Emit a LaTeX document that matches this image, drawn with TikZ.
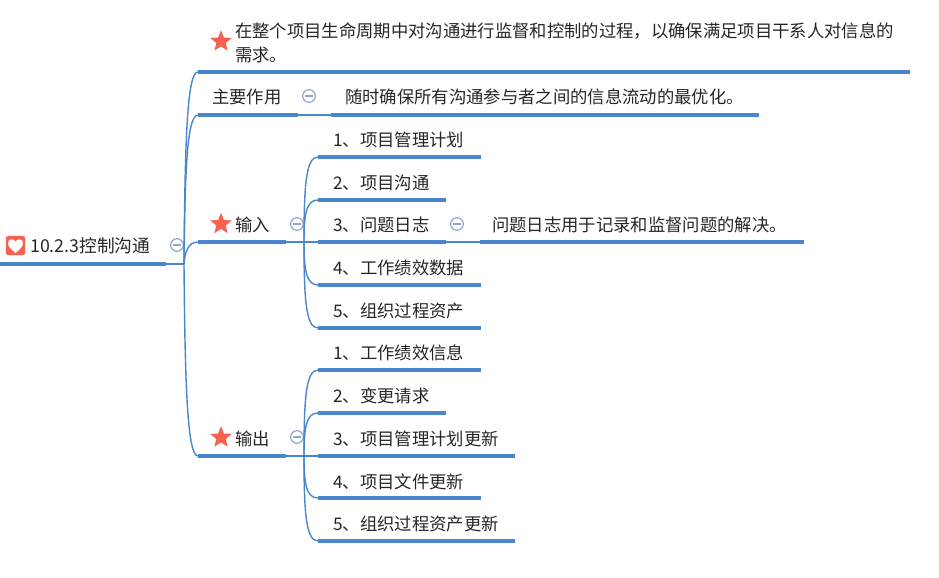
\documentclass[tikz,border=0pt]{standalone}
\usepackage{fontspec}
\setmainfont{Noto Sans CJK SC}
\usepackage{xcolor}
\definecolor{mmblue}{RGB}{74,134,203}
\definecolor{mmcircle}{RGB}{142,165,208}
\definecolor{mmred}{RGB}{250,96,80}
\definecolor{mmtext}{RGB}{38,38,38}
\usepackage{tikz}
\usetikzlibrary{positioning, shapes.geometric}
\tikzset{
  topic/.style={font=\fontsize{13pt}{18pt}\selectfont, text=mmtext, inner sep=0pt, anchor=west, align=left},
  bar/.style={draw=mmblue, line width=2.6pt},
  branch/.style={draw=mmblue, line width=1.05pt},
  collapse/.style={circle, draw=mmcircle, line width=0.9pt, inner sep=0pt, minimum size=9.5pt,
    path picture={\draw[mmcircle, line width=0.9pt] ([xshift=-3pt]path picture bounding box.center) -- ([xshift=3pt]path picture bounding box.center);}},
  redstar/.style={star, star points=5, star point ratio=2.3, fill=mmred, inner sep=0pt, minimum size=17pt}
}
\begin{document}
\begin{tikzpicture}[x=0.75pt, y=-0.75pt]
  \useasboundingbox (0,0) rectangle (939,578);

  % --- Root ---
  \coordinate (rootL) at (0,264);
  \coordinate (rootR) at (166,264);
  \coordinate (hub) at (184,264);
  \draw[bar] (rootL) -- (rootR);
  \draw[branch] (rootR) -- (hub);
  \node[fill=mmred, rounded corners=2pt, minimum size=14.5pt, inner sep=0pt] (rooticon) at (15.5,245.5) {};
  \fill[white] (15.5,253) .. controls (10,248.5) and (8,246) .. (8,243)
       .. controls (8,238.5) and (13.5,238) .. (15.5,241.5)
       .. controls (17.5,238) and (23,238.5) .. (23,243)
       .. controls (23,246) and (21,248.5) .. (15.5,253) -- cycle;
  \node[topic, font=\fontsize{13.3pt}{18pt}\selectfont] (root) at (30,246) {10.2.3控制沟通};
  \node[collapse] (rootc) at (177,245) {};

  % --- Definition ---
  \coordinate (defL) at (198,72);
  \coordinate (defR) at (910,72);
  \draw[bar] (defL) -- (defR);
  \draw[branch] (hub) .. controls (185,140) and (187,72) .. (defL);
  \node[redstar] (defstar) at (221,41.5) {};
  \node[topic] (def) at (235,42.5) {在整个项目生命周期中对沟通进行监督和控制的过程，以确保满足项目干系人对信息的\\需求。};

  % --- Main role ---
  \coordinate (roleL) at (198,115);
  \coordinate (roleR) at (298,115);
  \coordinate (notaL) at (331,115);
  \coordinate (notaR) at (759,115);
  \draw[bar] (roleL) -- (roleR);
  \draw[branch] (hub) .. controls (185,170) and (187,115) .. (roleL);
  \draw[branch] (roleR) -- (notaL);
  \draw[bar] (notaL) -- (notaR);
  \node[topic] (role) at (212,96.5) {主要作用};
  \node[collapse] (rolec) at (309,96) {};
  \node[topic] (nota) at (345,96.5) {随时确保所有沟通参与者之间的信息流动的最优化。};

  % --- Inputs ---
  \coordinate (inL) at (198,242);
  \coordinate (inR) at (286,242);
  \coordinate (inhub) at (304,242);
  \draw[bar] (inL) -- (inR);
  \draw[branch] (hub) .. controls (185,252) and (188,242) .. (inL);
  \draw[branch] (inR) -- (inhub);
  \node[redstar] (instar) at (221,224) {};
  \node[topic] (in) at (235,225) {输入};
  \node[collapse] (inc) at (297,224) {};

  % Input items
  \coordinate (ia) at (318,157);  \coordinate (iaR) at (481,157);
  \coordinate (ib) at (318,200);  \coordinate (ibR) at (446,200);
  \coordinate (ic) at (318,242);  \coordinate (icR) at (446,242);
  \coordinate (id) at (318,285);  \coordinate (idR) at (481,285);
  \coordinate (ie) at (318,328);  \coordinate (ieR) at (481,328);
  \draw[bar] (ia) -- (iaR);
  \draw[bar] (ib) -- (ibR);
  \draw[bar] (ic) -- (icR);
  \draw[bar] (id) -- (idR);
  \draw[bar] (ie) -- (ieR);
  \draw[branch] (inhub) .. controls (304,185) and (306,157) .. (ia);
  \draw[branch] (inhub) .. controls (304,215) and (306,200) .. (ib);
  \draw[branch] (inhub) -- (ic);
  \draw[branch] (inhub) .. controls (304,269) and (306,285) .. (id);
  \draw[branch] (inhub) .. controls (304,300) and (306,328) .. (ie);
  \node[topic] (iat) at (333,139.5) {1、项目管理计划};
  \node[topic] (ibt) at (333,182.5) {2、项目沟通};
  \node[topic] (ict) at (333,225) {3、问题日志};
  \node[topic] (idt) at (333,267.5) {4、工作绩效数据};
  \node[topic] (iet) at (333,310.5) {5、组织过程资产};

  % Note on the issue log
  \coordinate (notbL) at (480,242);
  \coordinate (notbR) at (804,242);
  \draw[branch] (icR) -- (notbL);
  \draw[bar] (notbL) -- (notbR);
  \node[collapse] (icc) at (457,224) {};
  \node[topic] (notb) at (492,225) {问题日志用于记录和监督问题的解决。};

  % --- Outputs ---
  \coordinate (outL) at (198,456);
  \coordinate (outR) at (286,456);
  \coordinate (outhub) at (304,456);
  \draw[bar] (outL) -- (outR);
  \draw[branch] (hub) .. controls (185,380) and (187,456) .. (outL);
  \draw[branch] (outR) -- (outhub);
  \node[redstar] (outstar) at (221,437.5) {};
  \node[topic] (out) at (235,438.5) {输出};
  \node[collapse] (outc) at (297,437) {};

  % Output items
  \coordinate (oa) at (318,370);  \coordinate (oaR) at (481,370);
  \coordinate (ob) at (318,413);  \coordinate (obR) at (446,413);
  \coordinate (oc) at (318,456);  \coordinate (ocR) at (515,456);
  \coordinate (od) at (318,498);  \coordinate (odR) at (481,498);
  \coordinate (oe) at (318,541);  \coordinate (oeR) at (515,541);
  \draw[bar] (oa) -- (oaR);
  \draw[bar] (ob) -- (obR);
  \draw[bar] (oc) -- (ocR);
  \draw[bar] (od) -- (odR);
  \draw[bar] (oe) -- (oeR);
  \draw[branch] (outhub) .. controls (304,398) and (306,370) .. (oa);
  \draw[branch] (outhub) .. controls (304,428) and (306,413) .. (ob);
  \draw[branch] (outhub) -- (oc);
  \draw[branch] (outhub) .. controls (304,483) and (306,498) .. (od);
  \draw[branch] (outhub) .. controls (304,513) and (306,541) .. (oe);
  \node[topic] (oat) at (333,352.5) {1、工作绩效信息};
  \node[topic] (obt) at (333,395.5) {2、变更请求};
  \node[topic] (oct) at (333,438.5) {3、项目管理计划更新};
  \node[topic] (odt) at (333,481.5) {4、项目文件更新};
  \node[topic] (oet) at (333,523.5) {5、组织过程资产更新};
\end{tikzpicture}
\end{document}
